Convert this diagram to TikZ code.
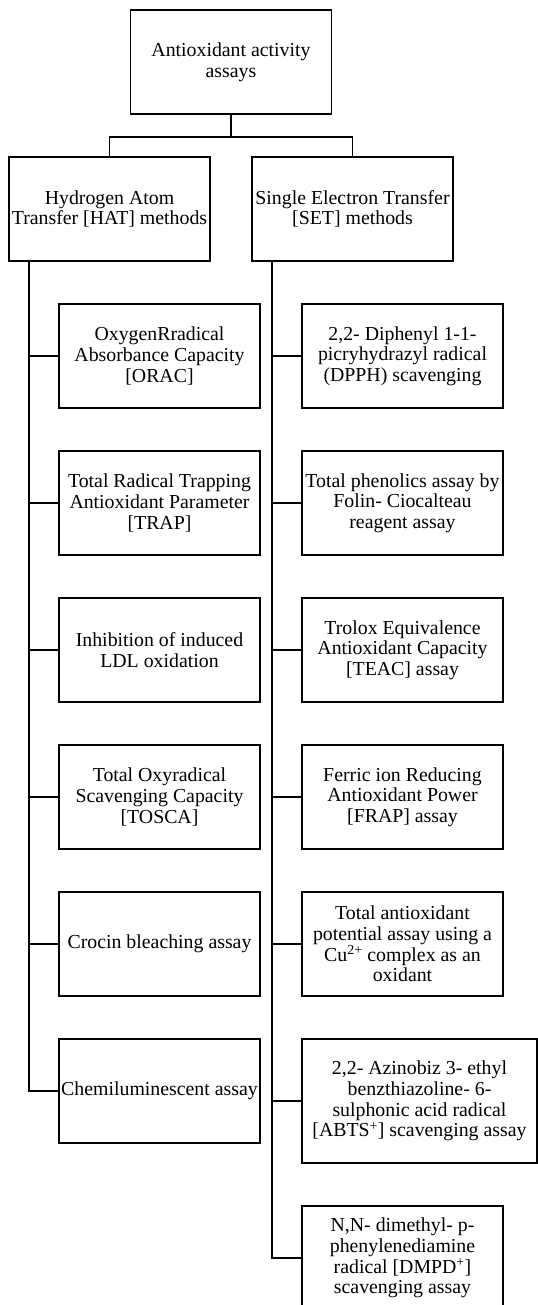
\documentclass[tikz,border=0pt]{standalone}
\usepackage{fontspec}
\setmainfont{Liberation Serif}
\usetikzlibrary{positioning}

\begin{document}
\begin{tikzpicture}[
    node distance=2.15cm,
    every node/.style={align=center, font=\fontsize{28.2}{29.4}\selectfont},
    box/.style={draw, line width=2.8pt, inner sep=2pt, outer sep=0pt,
      minimum width=10.05cm, minimum height=5.2cm},
    link/.style={line width=2.8pt}
  ]
    \useasboundingbox (0,0) rectangle (26.9,-65.25);

    \node[box] (root) at (11.55,-3.1)
      {Antioxidant activity\\assays};
    \node[box] (hat) at (5.475,-10.45)
      {Hydrogen Atom\\Transfer [HAT] methods};
    \node[box] (set) at (17.625,-10.45)
      {Single Electron Transfer\\{[SET]} methods};

    % HAT assays
    \node[box] (orac) at (7.975,-17.8)
      {OxygenRradical\\Absorbance Capacity\\{[ORAC]}};
    \node[box, below=of orac] (trap)
      {Total Radical Trapping\\Antioxidant Parameter\\{[TRAP]}};
    \node[box, below=of trap] (ldl)
      {Inhibition of induced\\LDL oxidation};
    \node[box, below=of ldl] (tosca)
      {Total Oxyradical\\Scavenging Capacity\\{[TOSCA]}};
    \node[box, below=of tosca] (crocin)
      {Crocin bleaching assay};
    \node[box, below=of crocin] (chemi)
      {Chemiluminescent assay};

    % SET assays
    \node[box] (dpph) at (20.125,-17.8)
      {2,2- Diphenyl 1-1-\\picryhydrazyl radical\\(DPPH) scavenging};
    \node[box, below=of dpph] (folin)
      {Total phenolics assay by\\Folin- Ciocalteau\\reagent assay};
    \node[box, below=of folin] (teac)
      {Trolox Equivalence\\Antioxidant Capacity\\{[TEAC]} assay};
    \node[box, below=of teac] (frap)
      {Ferric ion Reducing\\Antioxidant Power\\{[FRAP]} assay};
    \node[box, below=of frap] (cupric)
      {Total antioxidant\\potential assay using a\\Cu\textsuperscript{2+} complex as an\\oxidant};
    \node[box, below=of cupric.south west, anchor=north west,
      minimum width=11.75cm, minimum height=6.2cm] (abts)
      {2,2- Azinobiz 3- ethyl\\benzthiazoline- 6-\\sulphonic acid radical\\{[ABTS\textsuperscript{+}]} scavenging assay};
    \node[box, below=of abts.south west, anchor=north west] (dmpd)
      {N,N- dimethyl- p-\\phenylenediamine\\radical [DMPD\textsuperscript{+}]\\scavenging assay};

    \draw[link] (root.south) -- ++(0,-1.15) coordinate (fork);
    \draw[link] (hat.north) |- (fork) -| (set.north);

    \coordinate (hattrunk) at ([xshift=1cm]hat.south west);
    \coordinate (settrunk) at ([xshift=1cm]set.south west);
    \draw[link] (hattrunk) |- (chemi.west);
    \foreach \n in {orac,trap,ldl,tosca,crocin}
      \draw[link] (\n.west) -- (\n.west -| hattrunk);
    \draw[link] (settrunk) |- (dmpd.west);
    \foreach \n in {dpph,folin,teac,frap,cupric,abts}
      \draw[link] (\n.west) -- (\n.west -| settrunk);
  \end{tikzpicture}
\end{document}
